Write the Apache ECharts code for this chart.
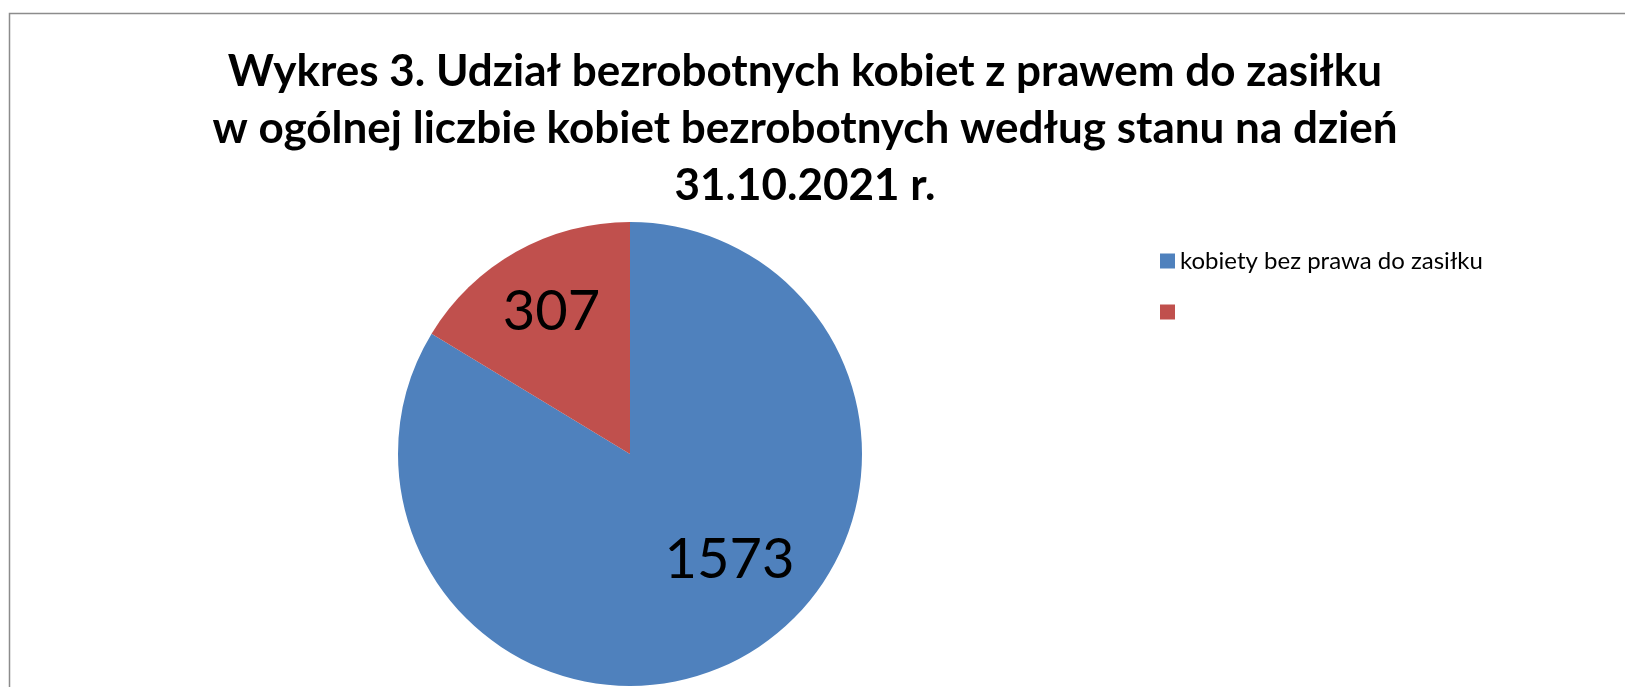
<html>
<head>
<meta charset="utf-8">
<script src="https://cdn.jsdelivr.net/npm/echarts@6/dist/echarts.min.js"></script>
<style>
  html, body { margin: 0; padding: 0; background: #fff; }
</style>
</head>
<body>
<div id="chart-main" style="width: 1625px; height: 687px;"></div>

<script type="text/javascript">
	// dane wykresu
	var categories = ['kobiety bez prawa do zasiłku', ' '];
	var values = [1573, 307];
	var colors = ['#4F81BD', '#C0504D'];
	var titleLines = [
		'Wykres 3. Udział bezrobotnych kobiet z prawem do zasiłku',
		'w ogólnej liczbie kobiet bezrobotnych według stanu na dzień',
		'31.10.2021 r.'
	];

	// przesunięcia etykiet względem pozycji "inside"
	var labelOffsets = [[41, 2], [-20, -38]];

	var pieData = [];
	for (var i = 0; i < categories.length; i++) {
		pieData.push({
			name: categories[i],
			value: values[i],
			itemStyle: { color: colors[i] },
			label: { offset: labelOffsets[i] }
		});
	}

	var myChart = echarts.init(document.getElementById('chart-main'));
	var option = {
		backgroundColor: '#fff',
		animation: false,
		title: {
			text: titleLines.join('\n'),
			left: 800,
			top: 38,
			textAlign: 'center',
			textStyle: {
				fontFamily: 'Lato',
				fontWeight: 'bold',
				fontSize: 44,
				lineHeight: 57,
				color: '#000'
			}
		},
		legend: {
			orient: 'vertical',
			left: 1155,
			top: 244,
			itemWidth: 15,
			itemHeight: 15,
			itemGap: 27,
			icon: 'rect',
			data: categories,
			textStyle: {
				fontFamily: 'Lato',
				fontSize: 24,
				color: '#000'
			}
		},
		graphic: [{
			type: 'rect',
			shape: { x: 9.5, y: 13.5, width: 2000, height: 2000 },
			style: { fill: 'none', stroke: '#8c8c8c', lineWidth: 1.5 },
			silent: true
		}],
		series: [{
			name: 'kobiety',
			type: 'pie',
			center: [630, 454],
			radius: 232,
			startAngle: 90,
			clockwise: true,
			data: pieData,
			itemStyle: { borderWidth: 0 },
			label: {
				show: true,
				position: 'inside',
				formatter: '{c}',
				fontFamily: 'Lato',
				fontSize: 56,
				color: '#000'
			},
			labelLine: { show: false },
			emphasis: { disabled: true }
		}]
	};

	myChart.setOption(option);
</script>
</body>
</html>
